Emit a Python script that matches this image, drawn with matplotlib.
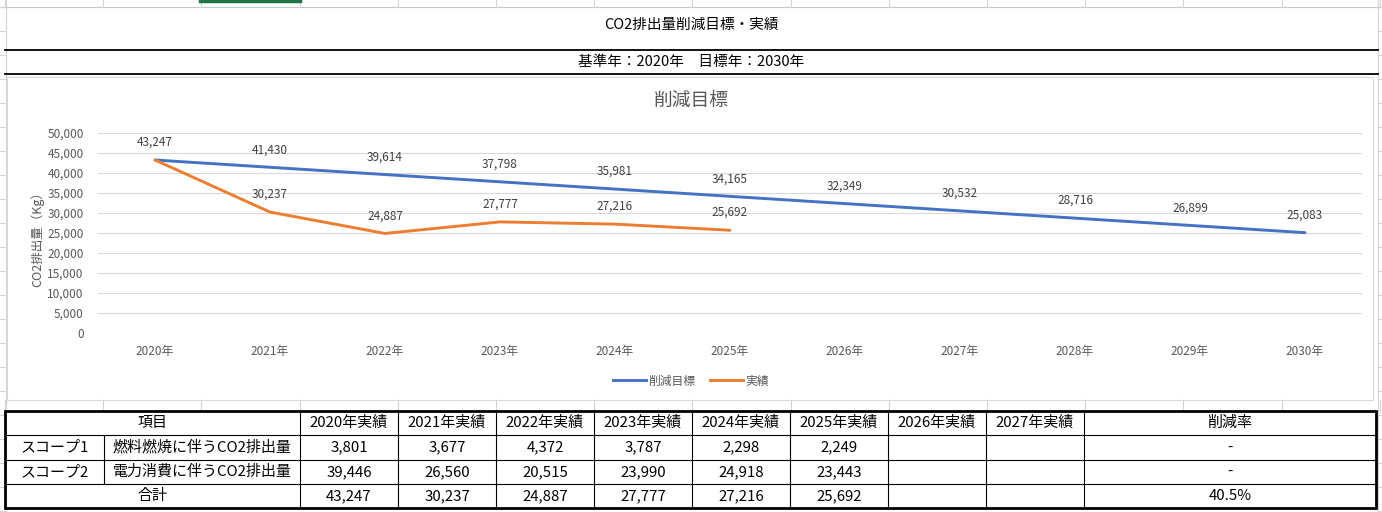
import matplotlib
matplotlib.use('Agg')
import matplotlib.pyplot as plt
from matplotlib.lines import Line2D

plt.rcParams['font.family'] = ['Noto Sans CJK JP', 'DejaVu Sans']

# データ
years = ['2020年', '2021年', '2022年', '2023年', '2024年', '2025年',
         '2026年', '2027年', '2028年', '2029年', '2030年']
target = [43247, 41430, 39614, 37798, 35981, 34165, 32349, 30532, 28716, 26899, 25083]
actual = [43247, 30237, 24887, 27777, 27216, 25692]

table_cols = ['2020年実績', '2021年実績', '2022年実績', '2023年実績',
              '2024年実績', '2025年実績', '2026年実績', '2027年実績']
scope1 = [3801, 3677, 4372, 3787, 2298, 2249]
scope2 = [39446, 26560, 20515, 23990, 24918, 23443]
totals = [43247, 30237, 24887, 27777, 27216, 25692]
rates = ['-', '-', '40.5%']

W, H = 1382, 512
BLUE = '#4472C4'
ORANGE = '#ED7D31'
GREY = '#595959'
GRID = '#D9D9D9'

fig = plt.figure(figsize=(W / 100, H / 100), dpi=100)

# 背景（シート・表）用の座標系はピクセル
bg = fig.add_axes([0, 0, 1, 1])
bg.set_xlim(0, W)
bg.set_ylim(H, 0)
bg.axis('off')

# シートの薄い罫線
col_x = [5 + 98.2 * i for i in range(15)]
bg.plot([0, W], [7, 7], color='#C8C8C8', lw=0.8)
for x in col_x:
    bg.plot([x, x], [0, 7], color='#D4D4D4', lw=0.8)
    bg.plot([x, x], [400, 411], color='#D4D4D4', lw=0.8)
bg.plot([200, 300], [1, 1], color='#217346', lw=2.5)
for y in range(7, H, 24):
    bg.plot([0, 6], [y, y], color='#D4D4D4', lw=0.8)
    bg.plot([1378, W], [y, y], color='#D4D4D4', lw=0.8)
bg.plot([6, 6], [0, H], color='#D4D4D4', lw=0.8)
bg.plot([1378, 1378], [0, H], color='#D4D4D4', lw=0.8)

# タイトル部
bg.text(691, 25, 'CO2排出量削減目標・実績', ha='center', va='center', fontsize=10.5)
bg.plot([5, 1378], [50, 50], color='black', lw=1.3)
bg.text(691, 62, '基準年：2020年\u3000目標年：2030年', ha='center', va='center', fontsize=10.5)
bg.plot([5, 1378], [74, 74], color='black', lw=1.3)

# グラフ枠
bg.add_patch(plt.Rectangle((7, 77), 1366, 323, fill=True, facecolor='white',
                           edgecolor='#D9D9D9', lw=0.8))
bg.text(691, 100, '削減目標', ha='center', va='center', fontsize=13.5, color=GREY)
bg.text(37, 236, 'CO2排出量（Kg）', ha='center', va='center', rotation=90,
        fontsize=9, color=GREY)

# 折れ線グラフ
ax = fig.add_axes([97.5 / W, 1 - 333 / H, 1265 / W, 200 / H])
ax.set_facecolor('none')
ax.set_zorder(2)
xs = list(range(len(years)))
ax.plot(xs, target, color=BLUE, lw=2.1, solid_capstyle='round', zorder=3)
ax.plot(xs[:len(actual)], actual, color=ORANGE, lw=2.1, solid_capstyle='round', zorder=4)
ax.set_xlim(-0.5, len(years) - 0.5)
ax.set_ylim(0, 50000)
ax.set_yticks(range(0, 50001, 5000))
ax.set_yticklabels([f'{v:,}' for v in range(0, 50001, 5000)], fontsize=8.5, color=GREY)
ax.set_xticks(xs)
ax.set_xticklabels(years, fontsize=8.5, color=GREY)
ax.tick_params(length=0, pad=10, axis='y')
ax.tick_params(length=0, pad=9, axis='x')
ax.grid(axis='y', color=GRID, lw=0.8)
ax.set_axisbelow(True)
for s in ax.spines.values():
    s.set_visible(False)

for i, v in enumerate(target):
    ax.annotate(f'{v:,}', (i, v), xytext=(0, 8), textcoords='offset points',
                ha='center', va='bottom', fontsize=8.5, color='#404040')
for i, v in enumerate(actual[1:], start=1):
    ax.annotate(f'{v:,}', (i, v), xytext=(0, 8), textcoords='offset points',
                ha='center', va='bottom', fontsize=8.5, color='#404040')

handles = [Line2D([], [], color=BLUE, lw=2.1), Line2D([], [], color=ORANGE, lw=2.1)]
fig.legend(handles, ['削減目標', '実績'], loc='center', bbox_to_anchor=(691 / W, 1 - 381 / H),
           ncol=2, frameon=False, fontsize=8.5, labelcolor=GREY, handlelength=2.8,
           handletextpad=0.2, columnspacing=1.2)

# 表
row_y = [411, 435, 460, 484, 508]
tcol_x = [5, 104, 300, 398, 496, 594, 692, 790, 888, 986, 1084, 1376]
L, R = tcol_x[0], tcol_x[-1]

for y in row_y[1:-1]:
    bg.plot([L, R], [y, y], color='black', lw=0.8, zorder=5)
for j, x in enumerate(tcol_x[1:-1], start=1):
    if j == 1:
        bg.plot([x, x], [row_y[1], row_y[3]], color='black', lw=0.8, zorder=5)
    else:
        bg.plot([x, x], [row_y[0], row_y[-1]], color='black', lw=0.8, zorder=5)
bg.add_patch(plt.Rectangle((L, row_y[0]), R - L, row_y[-1] - row_y[0], fill=False,
                           edgecolor='black', lw=2, zorder=6))

fs = 10.8
cy = [(row_y[k] + row_y[k + 1]) / 2 for k in range(4)]
bg.text((tcol_x[0] + tcol_x[2]) / 2, cy[0], '項目', ha='center', va='center', fontsize=fs)
for j, c in enumerate(table_cols):
    bg.text((tcol_x[2 + j] + tcol_x[3 + j]) / 2, cy[0], c, ha='center', va='center', fontsize=fs)
bg.text((tcol_x[-2] + tcol_x[-1]) / 2, cy[0], '削減率', ha='center', va='center', fontsize=fs)

bg.text((tcol_x[0] + tcol_x[1]) / 2, cy[1], 'スコープ1', ha='center', va='center', fontsize=fs)
bg.text((tcol_x[1] + tcol_x[2]) / 2, cy[1], '燃料燃焼に伴うCO2排出量', ha='center', va='center', fontsize=fs)
bg.text((tcol_x[0] + tcol_x[1]) / 2, cy[2], 'スコープ2', ha='center', va='center', fontsize=fs)
bg.text((tcol_x[1] + tcol_x[2]) / 2, cy[2], '電力消費に伴うCO2排出量', ha='center', va='center', fontsize=fs)
bg.text((tcol_x[0] + tcol_x[2]) / 2, cy[3], '合計', ha='center', va='center', fontsize=fs)

for k, row in enumerate([scope1, scope2, totals]):
    for j, v in enumerate(row):
        bg.text((tcol_x[2 + j] + tcol_x[3 + j]) / 2, cy[k + 1], f'{v:,}',
                ha='center', va='center', fontsize=fs)
    bg.text((tcol_x[-2] + tcol_x[-1]) / 2, cy[k + 1], rates[k], ha='center', va='center', fontsize=fs)

fig.savefig('out.png', dpi=100)
